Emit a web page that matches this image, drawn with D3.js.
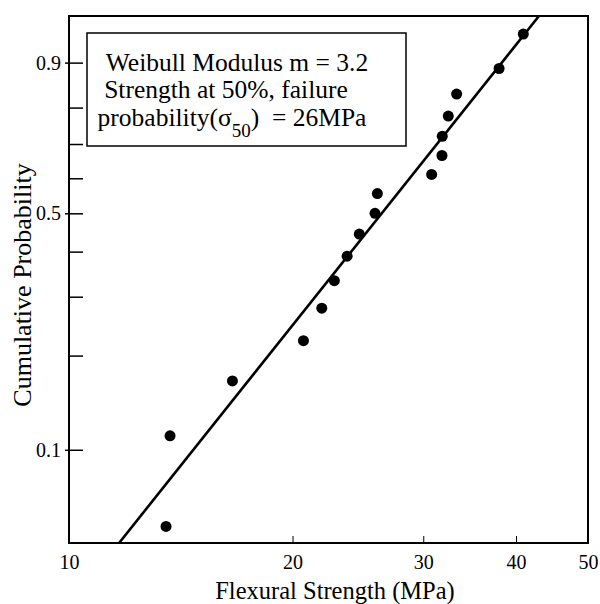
<!DOCTYPE html>
<html><head><meta charset="utf-8">
<script src="https://cdn.jsdelivr.net/npm/d3@7"></script>
<style>
body{margin:0;background:#fff}
text{font-family:"Liberation Serif","Times New Roman",serif;fill:#000}
</style>
</head><body><svg id="c" width="600" height="604"></svg>
<script>
// ---- data ----
const strength = [13.51,13.68,16.60,20.69,21.90,22.77,23.69,24.60,25.83,26.02,30.79,31.79,31.82,32.42,33.27,37.95,40.91];
const cumProb  = [0.0556,0.1111,0.1667,0.2222,0.2778,0.3333,0.3889,0.4444,0.5,0.5556,0.6111,0.6667,0.7222,0.7778,0.8333,0.8889,0.9444];
const fitStrength = [11.68, 42.95];
const fitProb     = [0.0489, 0.9645];
const xTicks = [10,20,30,40,50];
const yMajorTicks = [0.1,0.5,0.9];
const yMinorTicks = [0.2,0.3,0.4,0.6,0.7,0.8];
const xDomain = [10,50];
const yDomain = [0.0489,0.9645];
const legendLines = ["Weibull Modulus m = 3.2","Strength at 50%, failure"];
const xTitle = "Flexural Strength (MPa)";
const yTitle = "Cumulative Probability";

// ---- layout ----
const L=69, R=588, T=16, B=543;
const svg = d3.select("#c");

const wb = F => Math.log(-Math.log(1-F));
function weibullScale(){
  const lin = d3.scaleLinear();
  let dom=[0.1,0.9];
  function s(F){ return lin(wb(F)); }
  s.domain = function(d){ if(!arguments.length) return dom; dom=d; lin.domain(d.map(wb)); return s; };
  s.range = function(r){ if(!arguments.length) return lin.range(); lin.range(r); return s; };
  s.copy = function(){ return weibullScale().domain(dom).range(lin.range()); };
  return s;
}
const x = d3.scaleLog().domain(xDomain).range([L,R]);
const y = weibullScale().domain(yDomain).range([B,T]);

// x axis
const gx = svg.append("g").attr("transform",`translate(0,${B})`)
  .call(d3.axisBottom(x).tickValues(xTicks).tickFormat(d3.format("d")).tickSize(-7).tickPadding(12));
gx.select(".domain").remove();
gx.selectAll("line").attr("stroke","#000").attr("stroke-width",1);
gx.selectAll("text").attr("font-size",20).attr("font-family","Liberation Serif");

// y axis major
const gy = svg.append("g").attr("transform",`translate(${L},0)`)
  .call(d3.axisLeft(y).tickValues(yMajorTicks).tickFormat(d3.format(".1f")).tickSize(-14).tickPadding(8));
gy.select(".domain").remove();
gy.selectAll("line").attr("x1",-4).attr("x2",14).attr("stroke","#000").attr("stroke-width",1.5);
gy.selectAll("text").attr("font-size",20).attr("font-family","Liberation Serif");

const gy2 = svg.append("g").attr("transform",`translate(${L},0)`)
  .call(d3.axisLeft(y).tickValues(yMinorTicks).tickFormat("").tickSize(-14));
gy2.select(".domain").remove();
gy2.selectAll("line").attr("stroke","#000").attr("stroke-width",1.5);

// frame
svg.append("rect").attr("x",L).attr("y",T).attr("width",R-L).attr("height",B-T)
  .attr("fill","none").attr("stroke","#000").attr("stroke-width",2);

// clip
svg.append("clipPath").attr("id","clip").append("rect")
  .attr("x",L).attr("y",T).attr("width",R-L).attr("height",B-T);

// fit line
svg.append("path").attr("clip-path","url(#clip)")
  .datum(d3.zip(fitStrength,fitProb))
  .attr("d", d3.line().x(d=>x(d[0])).y(d=>y(d[1])))
  .attr("fill","none").attr("stroke","#000").attr("stroke-width",2.6);

// points
svg.append("g").selectAll("circle").data(d3.zip(strength,cumProb)).join("circle")
  .attr("cx",d=>x(d[0])).attr("cy",d=>y(d[1])).attr("r",5.5).attr("fill","#000");

// legend
svg.append("rect").attr("x",87).attr("y",33).attr("width",319).attr("height",113)
  .attr("fill","#fff").attr("stroke","#000").attr("stroke-width",1.5);
const lg = svg.append("g").attr("font-size",25.5).attr("text-anchor","middle");
lg.append("text").attr("x",237).attr("y",71).text(legendLines[0]);
lg.append("text").attr("x",226).attr("y",98).text(legendLines[1]);
const t3 = lg.append("text").attr("x",232).attr("y",126);
t3.append("tspan").text("probability(σ");
t3.append("tspan").attr("dy",11).attr("font-size",19).text("50");
t3.append("tspan").attr("dy",-11).text(")\u00a0 = 26MPa");

// titles
svg.append("text").attr("x",335).attr("y",599).attr("text-anchor","middle").attr("font-size",24.5).text(xTitle);
svg.append("text").attr("transform","translate(31,285) rotate(-90)").attr("text-anchor","middle").attr("font-size",26).text(yTitle);
</script>
</body></html>
